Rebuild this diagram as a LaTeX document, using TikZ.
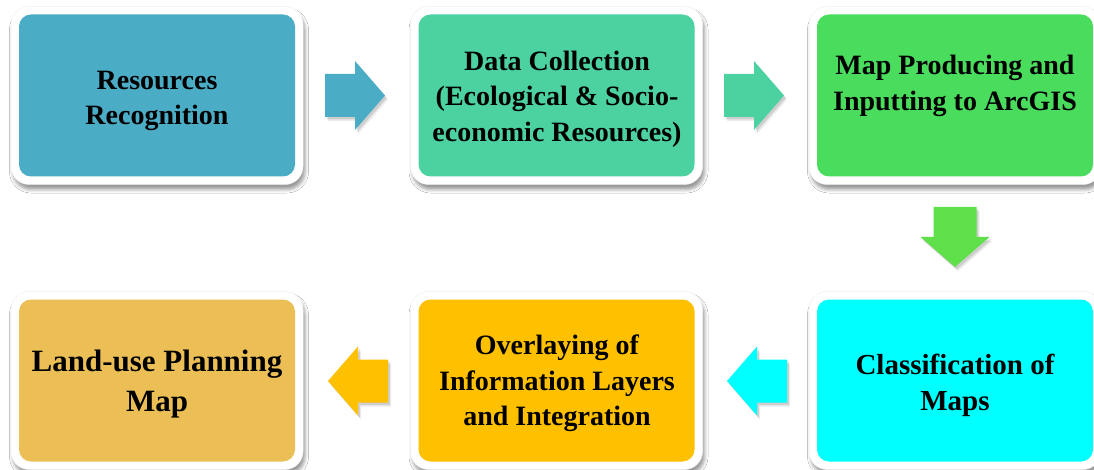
\documentclass[tikz,border=0pt]{standalone}
\usepackage{fontspec}
\setmainfont{Liberation Serif}
\usetikzlibrary{shadows.blur}

\definecolor{cTeal}{HTML}{4BACC6}
\definecolor{cMint}{HTML}{4CD2A0}
\definecolor{cGreen}{HTML}{4ADC5C}
\definecolor{cLime}{HTML}{5FE04A}
\definecolor{cCyan}{HTML}{00FFFF}
\definecolor{cAmber}{HTML}{FFC000}
\definecolor{cSand}{HTML}{EBBF55}

\tikzset{
  stagebox/.style={rectangle, rounded corners=18pt, fill=white, draw=black!6,
    line width=0.5pt, minimum width=292pt, minimum height=178pt, inner sep=0pt,
    blur shadow={shadow xshift=2pt, shadow yshift=-5pt, shadow blur radius=3.5pt,
      shadow opacity=40},
    path picture={\fill[#1, rounded corners=12pt]
      ([shift={(8pt,-8pt)}]path picture bounding box.north west) rectangle
      ([shift={(-8pt,8pt)}]path picture bounding box.south east);}},
  stagetext/.style={align=center, inner sep=0pt,
    font=\bfseries\fontsize{28}{35.5}\selectfont},
  bigtext/.style 2 args={align=center, inner sep=0pt,
    font=\bfseries\fontsize{#1}{#2}\selectfont},
}

% block arrow pointing along +x, placed at the base of its head,
% with a soft shadow cast down and to the right
\newcommand{\arrowoutline}{(-30,-21.5) -- (0,-21.5) -- (0,-34.5) -- (30,0)
      -- (0,34.5) -- (0,21.5) -- (-30,21.5) -- cycle}
\newcommand{\blockarrow}[3]{%
  \begin{scope}[shift={(#1)}]
    \begin{scope}[shift={(3,4)}, rotate=#2]
      \fill[black, opacity=0.08] \arrowoutline;
    \end{scope}
    \begin{scope}[shift={(1.8,2.5)}, rotate=#2]
      \fill[black, opacity=0.12] \arrowoutline;
    \end{scope}
    \begin{scope}[rotate=#2]
      \fill[#3] \arrowoutline;
    \end{scope}
  \end{scope}}

\begin{document}
\begin{tikzpicture}[x=1pt, y=-1pt]
  \fill[white] (0,0) rectangle (1094,470);
  \useasboundingbox (0,0) rectangle (1094,470);

  % stages
  \node[stagebox=cTeal]  (b1) at (157,95.5)  {};
  \node[stagebox=cMint]  (b2) at (556.5,95.5) {};
  \node[stagebox=cGreen] (b3) at (955,95.5)  {};
  \node[stagebox=cCyan]  (b4) at (955,380.5) {};
  \node[stagebox=cAmber] (b5) at (556.5,380.5) {};
  \node[stagebox=cSand]  (b6) at (157,380.5) {};

  \node[stagetext] (t1) at (157,101) {Resources\\Recognition};
  \node[stagetext] (t2) at (557,99) {Data Collection\\(Ecological \& Socio-\\economic Resources)};
  \node[stagetext] (t3) at (955,86) {Map Producing and\\Inputting to ArcGIS};
  \node[bigtext={29}{36}] (t4) at (955,385) {Classification of\\Maps};
  \node[stagetext] (t5) at (557,383.5) {Overlaying of\\Information Layers\\and Integration};
  \node[bigtext={31}{40}] (t6) at (157,384.5) {Land-use Planning\\Map};

  % flow arrows
  \coordinate (a1) at (355,95.5);
  \coordinate (a2) at (754,95.5);
  \coordinate (a3) at (955,237);
  \coordinate (a4) at (757,381);
  \coordinate (a5) at (358,381);
  \blockarrow{a1}{0}{cTeal}
  \blockarrow{a2}{0}{cMint}
  \blockarrow{a3}{-90}{cLime}
  \blockarrow{a4}{180}{cCyan}
  \blockarrow{a5}{180}{cAmber}
\end{tikzpicture}
\end{document}
